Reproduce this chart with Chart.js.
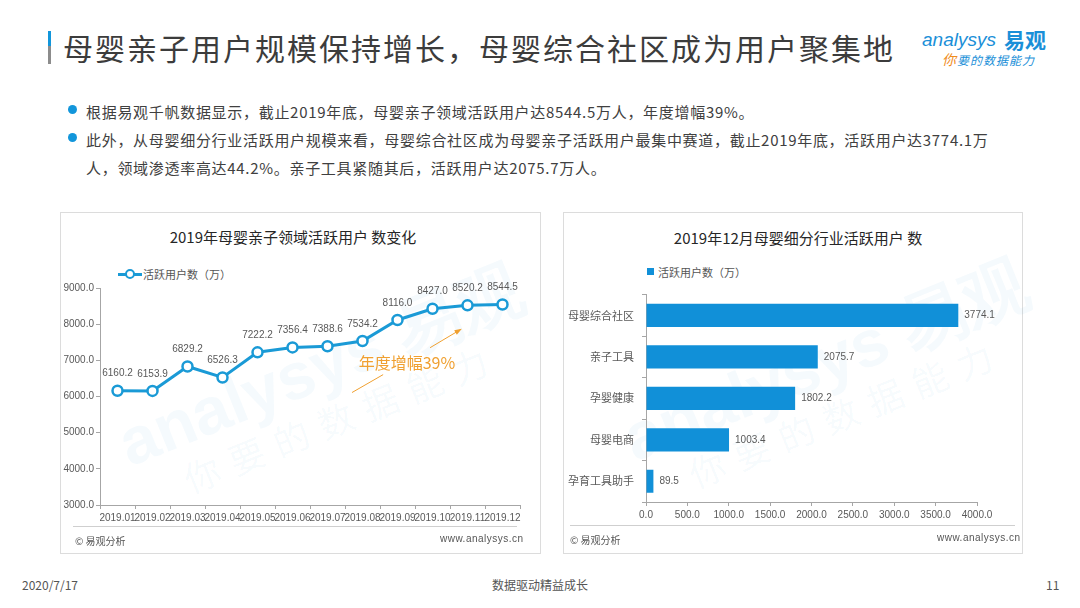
<!DOCTYPE html>
<html><head><meta charset="utf-8">
<script src="https://cdn.jsdelivr.net/npm/chart.js@4.4.1/dist/chart.umd.min.js"></script>
<style>
html,body{margin:0;padding:0;background:#fff;}
body{width:1080px;height:608px;position:relative;overflow:hidden;font-family:"Noto Sans CJK SC","Noto Sans",sans-serif;color:#404040;}
.abs{position:absolute;white-space:nowrap;}
.panel{position:absolute;border:1px solid #dcdcdc;background:#fff;}
.ptitle{position:absolute;font-size:15px;color:#262626;transform:translateX(-50%);white-space:nowrap;font-weight:normal;}
.sep{position:absolute;height:1px;background:#cfcfcf;}
.foot{position:absolute;font-size:10px;color:#555;white-space:nowrap;}
.leg{position:absolute;font-size:11px;color:#555;white-space:nowrap;}
canvas{position:absolute;}
.wm{position:absolute;white-space:nowrap;transform-origin:left top;pointer-events:none;}
</style></head>
<body>
<!-- header -->
<div class="abs" style="left:48px;top:31px;width:3px;height:15px;background:#1296db;"></div>
<div class="abs" style="left:48px;top:46px;width:3px;height:18px;background:#8c8c8c;"></div>
<div class="abs" style="left:63px;top:25px;font-size:30px;letter-spacing:2px;color:#3c3c3c;line-height:44px;">母婴亲子用户规模保持增长，母婴综合社区成为用户聚集地</div>
<!-- logo -->
<div class="abs" style="left:922px;top:28px;font-size:19px;color:#1a8fd8;font-family:'Liberation Sans',sans-serif;font-style:italic;line-height:24px;">analysys</div>
<div class="abs" style="left:1004px;top:26px;font-size:21px;color:#1a8fd8;font-weight:bold;line-height:26px;">易观</div>
<div class="abs" style="left:942px;top:51px;font-size:12px;line-height:16px;font-style:italic;color:#1a8fd8;letter-spacing:1px;"><span style="color:#f08c1e;font-size:14px;">你</span>要的数据能力</div>
<!-- bullets -->
<div class="abs" style="left:68px;top:105px;width:9px;height:9px;border-radius:50%;background:#1296db;"></div>
<div class="abs" style="left:68px;top:133px;width:9px;height:9px;border-radius:50%;background:#1296db;"></div>
<div class="abs" style="left:86px;top:98px;font-size:15px;letter-spacing:0.7px;line-height:28px;color:#404040;">根据易观千帆数据显示，截止2019年底，母婴亲子领域活跃用户达8544.5万人，年度增幅39%。<br>此外，从母婴细分行业活跃用户规模来看，母婴综合社区成为母婴亲子活跃用户最集中赛道，截止2019年底，活跃用户达3774.1万<br>人，领域渗透率高达44.2%。亲子工具紧随其后，活跃用户达2075.7万人。</div>

<!-- left panel -->
<div class="panel" style="left:60px;top:212px;width:479px;height:340px;"></div>
<div class="wm" style="left:105px;top:405px;transform:rotate(-22deg);font-size:66px;font-weight:bold;color:rgba(26,143,216,0.045);font-family:'Liberation Sans',sans-serif;">analysys 易观</div>
<div class="wm" style="left:175px;top:455px;transform:rotate(-22deg);font-size:36px;letter-spacing:12px;color:rgba(26,143,216,0.045);">你要的数据能力</div>
<div class="ptitle" style="left:293px;top:226px;">2019年母婴亲子领域活跃用户 数变化</div>
<div class="abs" style="left:118px;top:273px;width:24px;height:3px;background:#1a9ad6;"></div>
<div class="abs" style="left:125px;top:269px;width:6px;height:6px;border:2px solid #1a9ad6;border-radius:50%;background:#fff;"></div>
<div class="leg" style="left:143px;top:266px;">活跃用户数（万）</div>
<canvas id="lineChart" style="left:60px;top:280px;width:470px;height:252px;" width="470" height="252"></canvas>
<div class="sep" style="left:73px;top:526px;width:444px;"></div>
<div class="foot" style="left:75px;top:533px;">© 易观分析</div>
<div class="foot" style="left:440px;top:533px;font-family:'Liberation Sans',sans-serif;letter-spacing:0.5px;">www.analysys.cn</div>

<!-- right panel -->
<div class="panel" style="left:563px;top:212px;width:458px;height:340px;"></div>
<div class="wm" style="left:610px;top:400px;transform:rotate(-22deg);font-size:66px;font-weight:bold;color:rgba(26,143,216,0.045);font-family:'Liberation Sans',sans-serif;">analysys 易观</div>
<div class="wm" style="left:680px;top:450px;transform:rotate(-22deg);font-size:36px;letter-spacing:12px;color:rgba(26,143,216,0.045);">你要的数据能力</div>
<div class="ptitle" style="left:798px;top:227px;">2019年12月母婴细分行业活跃用户 数</div>
<div class="abs" style="left:647px;top:268px;width:7px;height:7px;background:#1190d8;"></div>
<div class="leg" style="left:658px;top:264px;">活跃用户数（万）</div>
<canvas id="barChart" style="left:563px;top:280px;width:450px;height:250px;" width="450" height="250"></canvas>
<div class="sep" style="left:570px;top:525px;width:445px;"></div>
<div class="foot" style="left:570px;top:532px;">© 易观分析</div>
<div class="foot" style="left:937px;top:532px;font-family:'Liberation Sans',sans-serif;letter-spacing:0.5px;">www.analysys.cn</div>

<!-- page footer -->
<div class="abs" style="left:22px;top:576px;font-size:12px;color:#555;">2020/7/17</div>
<div class="abs" style="left:540px;top:576px;font-size:12px;color:#555;transform:translateX(-50%);">数据驱动精益成长</div>
<div class="abs" style="left:1046px;top:576px;font-size:12px;color:#555;">11</div>

<script>
// ---- data ----
const months = ['2019.01','2019.02','2019.03','2019.04','2019.05','2019.06','2019.07','2019.08','2019.09','2019.10','2019.11','2019.12'];
const activeUsers = [6160.2, 6153.9, 6829.2, 6526.3, 7222.2, 7356.4, 7388.6, 7534.2, 8116.0, 8427.0, 8520.2, 8544.5];
const segments = ['母婴综合社区','亲子工具','孕婴健康','母婴电商','孕育工具助手'];
const segmentUsers = [3774.1, 2075.7, 1802.2, 1003.4, 89.5];
const lineAxisMin = 3000, lineAxisMax = 9000, lineAxisStep = 1000;
const barAxisMin = 0, barAxisMax = 4000, barAxisStep = 500;
const growthText = '年度增幅39%';

const numFont = "'Liberation Sans', Arial, sans-serif";
const cjkFont = "'Noto Sans CJK SC', sans-serif";
const axisColor = '#a6a6a6';
const labelColor = '#595959';

const valueLabels = {
  id: 'valueLabels',
  afterDatasetsDraw(chart, args, opts) {
    const ctx = chart.ctx;
    const meta = chart.getDatasetMeta(0);
    const data = chart.data.datasets[0].data;
    ctx.save();
    ctx.font = '10px ' + numFont;
    ctx.fillStyle = labelColor;
    meta.data.forEach((el, i) => {
      const txt = data[i].toFixed(1);
      if (opts.mode === 'above') {
        ctx.textAlign = 'center'; ctx.textBaseline = 'bottom';
        ctx.fillText(txt, el.x, el.y - 12);
      } else {
        ctx.textAlign = 'left'; ctx.textBaseline = 'middle';
        ctx.fillText(txt, el.x + 6, el.y);
      }
    });
    ctx.restore();
  }
};

const growthNote = {
  id: 'growthNote',
  afterDatasetsDraw(chart) {
    const xs = chart.scales.x, ys = chart.scales.y;
    const P = (i, v) => {
      const a = xs.getPixelForValue(Math.floor(i)), b = xs.getPixelForValue(Math.floor(i) + 1);
      return [a + (b - a) * (i - Math.floor(i)), ys.getPixelForValue(v)];
    };
    const ctx = chart.ctx;
    ctx.save();
    ctx.strokeStyle = '#f0a030'; ctx.fillStyle = '#f0a030'; ctx.lineWidth = 1;
    let [x1, y1] = P(6.7, 6110), [x2, y2] = P(7.59, 6605);
    ctx.beginPath(); ctx.moveTo(x1, y1); ctx.lineTo(x2, y2); ctx.stroke();
    let [x3, y3] = P(8.93, 7349), [x4, y4] = P(9.79, 7844);
    ctx.beginPath(); ctx.moveTo(x3, y3); ctx.lineTo(x4, y4); ctx.stroke();
    const ang = Math.atan2(y4 - y3, x4 - x3);
    ctx.beginPath();
    ctx.moveTo(x4 + 2 * Math.cos(ang), y4 + 2 * Math.sin(ang));
    ctx.lineTo(x4 - 6 * Math.cos(ang - 0.45), y4 - 6 * Math.sin(ang - 0.45));
    ctx.lineTo(x4 - 6 * Math.cos(ang + 0.45), y4 - 6 * Math.sin(ang + 0.45));
    ctx.closePath(); ctx.fill();
    const [tx, ty] = P(8.27, 6936);
    ctx.font = '16px ' + cjkFont;
    ctx.textAlign = 'center'; ctx.textBaseline = 'middle';
    ctx.fillText(growthText, tx, ty);
    ctx.restore();
  }
};

new Chart(document.getElementById('lineChart'), {
  type: 'line',
  data: {
    labels: months,
    datasets: [{
      data: activeUsers,
      borderColor: '#1a9ad6',
      borderWidth: 3,
      pointRadius: 5,
      pointBorderWidth: 2.5,
      pointBackgroundColor: '#fff',
      pointBorderColor: '#1a9ad6',
      tension: 0,
      fill: false
    }]
  },
  options: {
    responsive: false,
    animation: false,
    devicePixelRatio: 1,
    layout: { padding: { left: 0, top: 7, right: 10, bottom: 3 } },
    plugins: { legend: { display: false }, tooltip: { enabled: false }, valueLabels: { mode: 'above' } },
    scales: {
      x: {
        type: 'category',
        offset: true,
        grid: { display: true, drawOnChartArea: false, drawTicks: true, tickLength: 4, color: axisColor, offset: true },
        border: { color: axisColor, width: 1 },
        ticks: { color: labelColor, font: { size: 10, family: numFont }, autoSkip: false, maxRotation: 0, padding: 3 },
        afterFit(s) { s.height = 24; }
      },
      y: {
        min: lineAxisMin, max: lineAxisMax,
        grid: { display: true, drawOnChartArea: false, drawTicks: true, tickLength: 4, color: axisColor },
        border: { color: axisColor, width: 1 },
        ticks: { stepSize: lineAxisStep, color: labelColor, font: { size: 10, family: numFont }, padding: 2,
                 callback: v => Number(v).toFixed(1) },
        afterFit(s) { s.width = 40; }
      }
    }
  },
  plugins: [valueLabels, growthNote]
});

new Chart(document.getElementById('barChart'), {
  type: 'bar',
  data: {
    labels: segments,
    datasets: [{ data: segmentUsers, backgroundColor: '#1190d8', categoryPercentage: 1, barPercentage: 0.56 }]
  },
  options: {
    indexAxis: 'y',
    responsive: false,
    animation: false,
    devicePixelRatio: 1,
    layout: { padding: { left: 0, top: 9, right: 36, bottom: 4 } },
    plugins: { legend: { display: false }, tooltip: { enabled: false }, valueLabels: { mode: 'right' } },
    scales: {
      x: {
        min: barAxisMin, max: barAxisMax,
        grid: { display: true, drawOnChartArea: false, drawTicks: true, tickLength: 4, color: axisColor },
        border: { color: axisColor, width: 1 },
        ticks: { stepSize: barAxisStep, color: labelColor, font: { size: 10, family: numFont }, maxRotation: 0, padding: 3,
                 callback: v => Number(v).toFixed(1) },
        afterFit(s) { s.height = 24; }
      },
      y: {
        type: 'category',
        grid: { display: true, drawOnChartArea: false, drawTicks: true, tickLength: 4, color: axisColor, offset: true },
        border: { color: axisColor, width: 1 },
        ticks: { color: labelColor, font: { size: 11, family: cjkFont }, padding: 8 },
        afterFit(s) { s.width = 83; }
      }
    }
  },
  plugins: [valueLabels]
});
</script>
</body></html>
